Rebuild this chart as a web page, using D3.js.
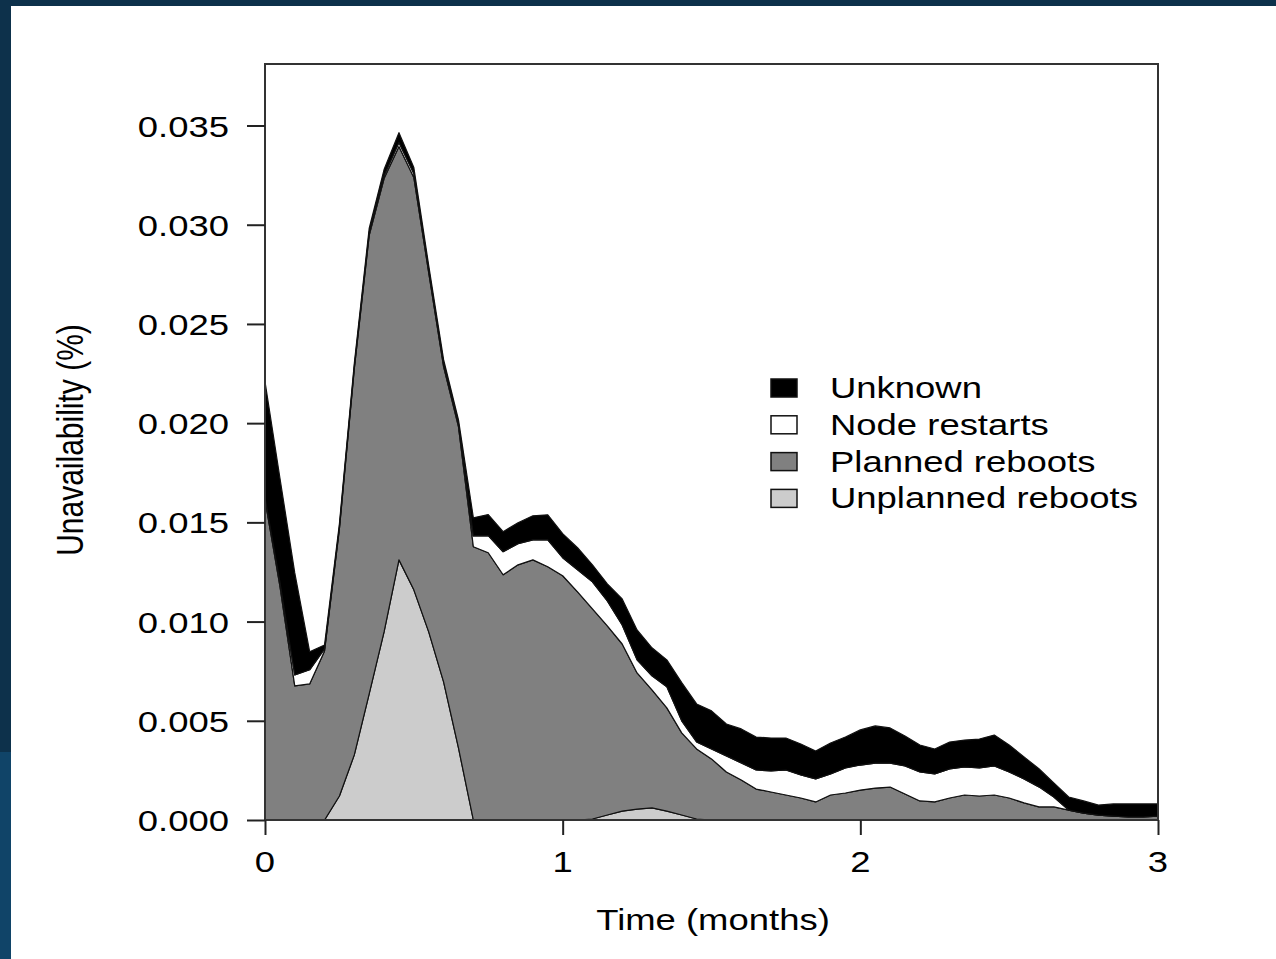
<!DOCTYPE html>
<html>
<head>
<meta charset="utf-8">
<script src="https://cdn.jsdelivr.net/npm/d3@7"></script>
<style>
  html, body { margin: 0; padding: 0; background: #ffffff; }
  svg { display: block; }
  text { font-family: "Liberation Sans", Arial, Helvetica, sans-serif; fill: #000; }
</style>
</head>
<body>
<svg id="chart" width="1276" height="959"></svg>
<script>
// Time axis (months) and stacked unavailability components
const months = [0,0.05,0.1,0.15,0.2,0.25,0.3,0.35,0.4,0.45,0.5,0.55,0.6,0.65,0.7,0.75,0.8,0.85,0.9,0.95,
  1,1.05,1.1,1.15,1.2,1.25,1.3,1.35,1.4,1.45,1.5,1.55,1.6,1.65,1.7,1.75,1.8,1.85,1.9,1.95,
  2,2.05,2.1,2.15,2.2,2.25,2.3,2.35,2.4,2.45,2.5,2.55,2.6,2.65,2.7,2.75,2.8,2.85,2.9,2.95,3];

const unplannedReboots = [0,0,0,0,0,0.00121,0.00328,0.00636,0.00948,0.01311,0.01160,0.00948,0.00696,0.00363,0,0,0,0,0,0,
  0,0,0.00005,0.00025,0.00045,0.00055,0.00061,0.00045,0.00025,0.00005,0,0,0,0,0,0,0,0,0,0,
  0,0,0,0,0,0,0,0,0,0,0,0,0,0,0,0,0,0,0,0,0];

const plannedReboots = [0.01614,0.01180,0.00676,0.00686,0.00852,0.01347,0.01947,0.02310,0.02285,0.02083,0.02078,0.01811,0.01589,0.01619,0.01377,0.01347,0.01236,0.01286,0.01311,0.01276,
  0.01231,0.01150,0.01059,0.00953,0.00842,0.00686,0.00595,0.00520,0.00414,0.00353,0.00308,0.00242,0.00202,0.00156,0.00141,0.00126,0.00111,0.00091,0.00126,0.00136,
  0.00151,0.00161,0.00166,0.00131,0.00096,0.00091,0.00111,0.00126,0.00121,0.00126,0.00111,0.00086,0.00066,0.00066,0.00050,0.00035,0.00025,0.00020,0.00015,0.00015,0.00020];

const nodeRestarts = [0.00010,0.00020,0.00055,0.00071,0.00010,0.00010,0.00010,0.00015,0.00015,0.00020,0.00020,0.00015,0.00015,0.00015,0.00055,0.00086,0.00116,0.00106,0.00101,0.00136,
  0.00091,0.00111,0.00136,0.00126,0.00096,0.00066,0.00071,0.00106,0.00061,0.00035,0.00050,0.00081,0.00086,0.00096,0.00106,0.00126,0.00116,0.00116,0.00106,0.00126,
  0.00126,0.00126,0.00121,0.00141,0.00146,0.00141,0.00146,0.00141,0.00141,0.00146,0.00131,0.00121,0.00101,0.00050,0,0,0,0,0,0,0];

const unknown = [0.00585,0.00525,0.00514,0.00091,0.00020,0.00015,0.00015,0.00020,0.00030,0.00050,0.00030,0.00020,0.00020,0.00020,0.00091,0.00106,0.00101,0.00106,0.00121,0.00126,
  0.00121,0.00111,0.00086,0.00086,0.00131,0.00151,0.00141,0.00136,0.00192,0.00192,0.00192,0.00161,0.00171,0.00166,0.00166,0.00161,0.00156,0.00141,0.00156,0.00156,
  0.00177,0.00187,0.00177,0.00151,0.00136,0.00126,0.00136,0.00136,0.00146,0.00156,0.00136,0.00111,0.00091,0.00071,0.00066,0.00061,0.00050,0.00061,0.00066,0.00066,0.00061];

const xTicks = [0, 1, 2, 3];
const yTicks = [0, 0.005, 0.010, 0.015, 0.020, 0.025, 0.030, 0.035];

// Layers listed bottom to top
const layerKeys = ["unplanned", "planned", "node", "unknown"];
const layerFill = { unplanned: "#cccccc", planned: "#808080", node: "#ffffff", unknown: "#000000" };
const legendItems = [
  { key: "unknown", label: "Unknown" },
  { key: "node", label: "Node restarts" },
  { key: "planned", label: "Planned reboots" },
  { key: "unplanned", label: "Unplanned reboots" }
];

const rows = months.map((m, i) => ({
  month: m,
  unplanned: unplannedReboots[i],
  planned: plannedReboots[i],
  node: nodeRestarts[i],
  unknown: unknown[i]
}));

const svg = d3.select("#chart");
const W = 1276, H = 959;
const SX = 1.215;   // horizontal text stretch
const FS = 30;

// page frame
svg.append("rect").attr("x", 0).attr("y", 0).attr("width", W).attr("height", H).attr("fill", "#ffffff");
svg.append("rect").attr("x", 0).attr("y", 0).attr("width", W).attr("height", 6).attr("fill", "#0d314b");
svg.append("rect").attr("x", 0).attr("y", 0).attr("width", 11).attr("height", 752).attr("fill", "#0d314b");
svg.append("rect").attr("x", 0).attr("y", 752).attr("width", 11).attr("height", H - 752).attr("fill", "#104468");

const plot = { left: 265, top: 64, right: 1158, bottom: 820 };

const x = d3.scaleLinear().domain([0, 3]).range([plot.left, plot.right]);
const y = d3.scaleLinear().domain([0, 0.0381]).range([plot.bottom, plot.top]);

const stacked = d3.stack().keys(layerKeys)(rows);

const area = d3.area()
  .x(d => x(d.data.month))
  .y0(d => y(d[0]))
  .y1(d => y(d[1]))
  .curve(d3.curveLinear);

svg.append("clipPath").attr("id", "plotClip")
  .append("rect")
  .attr("x", plot.left).attr("y", plot.top)
  .attr("width", plot.right - plot.left).attr("height", plot.bottom - plot.top);

const g = svg.append("g").attr("clip-path", "url(#plotClip)");
g.selectAll("path.layer")
  .data(stacked)
  .join("path")
  .attr("class", "layer")
  .attr("d", area)
  .attr("fill", d => layerFill[d.key])
  .attr("stroke", "#111")
  .attr("stroke-width", 1.2)
  .attr("stroke-linejoin", "round");

// plot frame
svg.append("rect")
  .attr("x", plot.left).attr("y", plot.top)
  .attr("width", plot.right - plot.left).attr("height", plot.bottom - plot.top)
  .attr("fill", "none").attr("stroke", "#333").attr("stroke-width", 2);

// stretched text helper
function label(sel, tx, ty, str, anchor, rotate) {
  const t = sel.append("text")
    .attr("transform", `translate(${tx},${ty}) scale(${SX},1)` + (rotate ? ` rotate(${rotate})` : ""))
    .attr("text-anchor", anchor)
    .attr("font-size", FS)
    .text(str);
  return t;
}

// y axis
const yAxis = svg.append("g").attr("transform", `translate(${plot.left},0)`)
  .call(d3.axisLeft(y).tickValues(yTicks).tickSize(18).tickFormat(""));
yAxis.select(".domain").remove();
yAxis.selectAll(".tick line").attr("stroke", "#222").attr("stroke-width", 2);
yTicks.forEach(v => label(svg, 229, y(v) + 11, d3.format(".3f")(v), "end"));

// x axis
const xAxis = svg.append("g").attr("transform", `translate(0,${plot.bottom})`)
  .call(d3.axisBottom(x).tickValues(xTicks).tickSize(15).tickFormat(""));
xAxis.select(".domain").remove();
xAxis.selectAll(".tick line").attr("stroke", "#222").attr("stroke-width", 2);
xTicks.forEach(v => label(svg, x(v), 872, d3.format("d")(v), "middle"));

// axis titles
label(svg, 713, 930, "Time (months)", "middle");
label(svg, 83, 440, "Unavailability (%)", "middle", -90);

// legend
const lg = svg.append("g");
legendItems.forEach((it, i) => {
  const cy = 388 + i * 36.8;
  lg.append("rect")
    .attr("x", 771).attr("y", cy - 9)
    .attr("width", 26).attr("height", 18)
    .attr("fill", layerFill[it.key])
    .attr("stroke", "#111").attr("stroke-width", 1.5);
  label(lg, 830, cy + 10, it.label, "start");
});
</script>
</body>
</html>
